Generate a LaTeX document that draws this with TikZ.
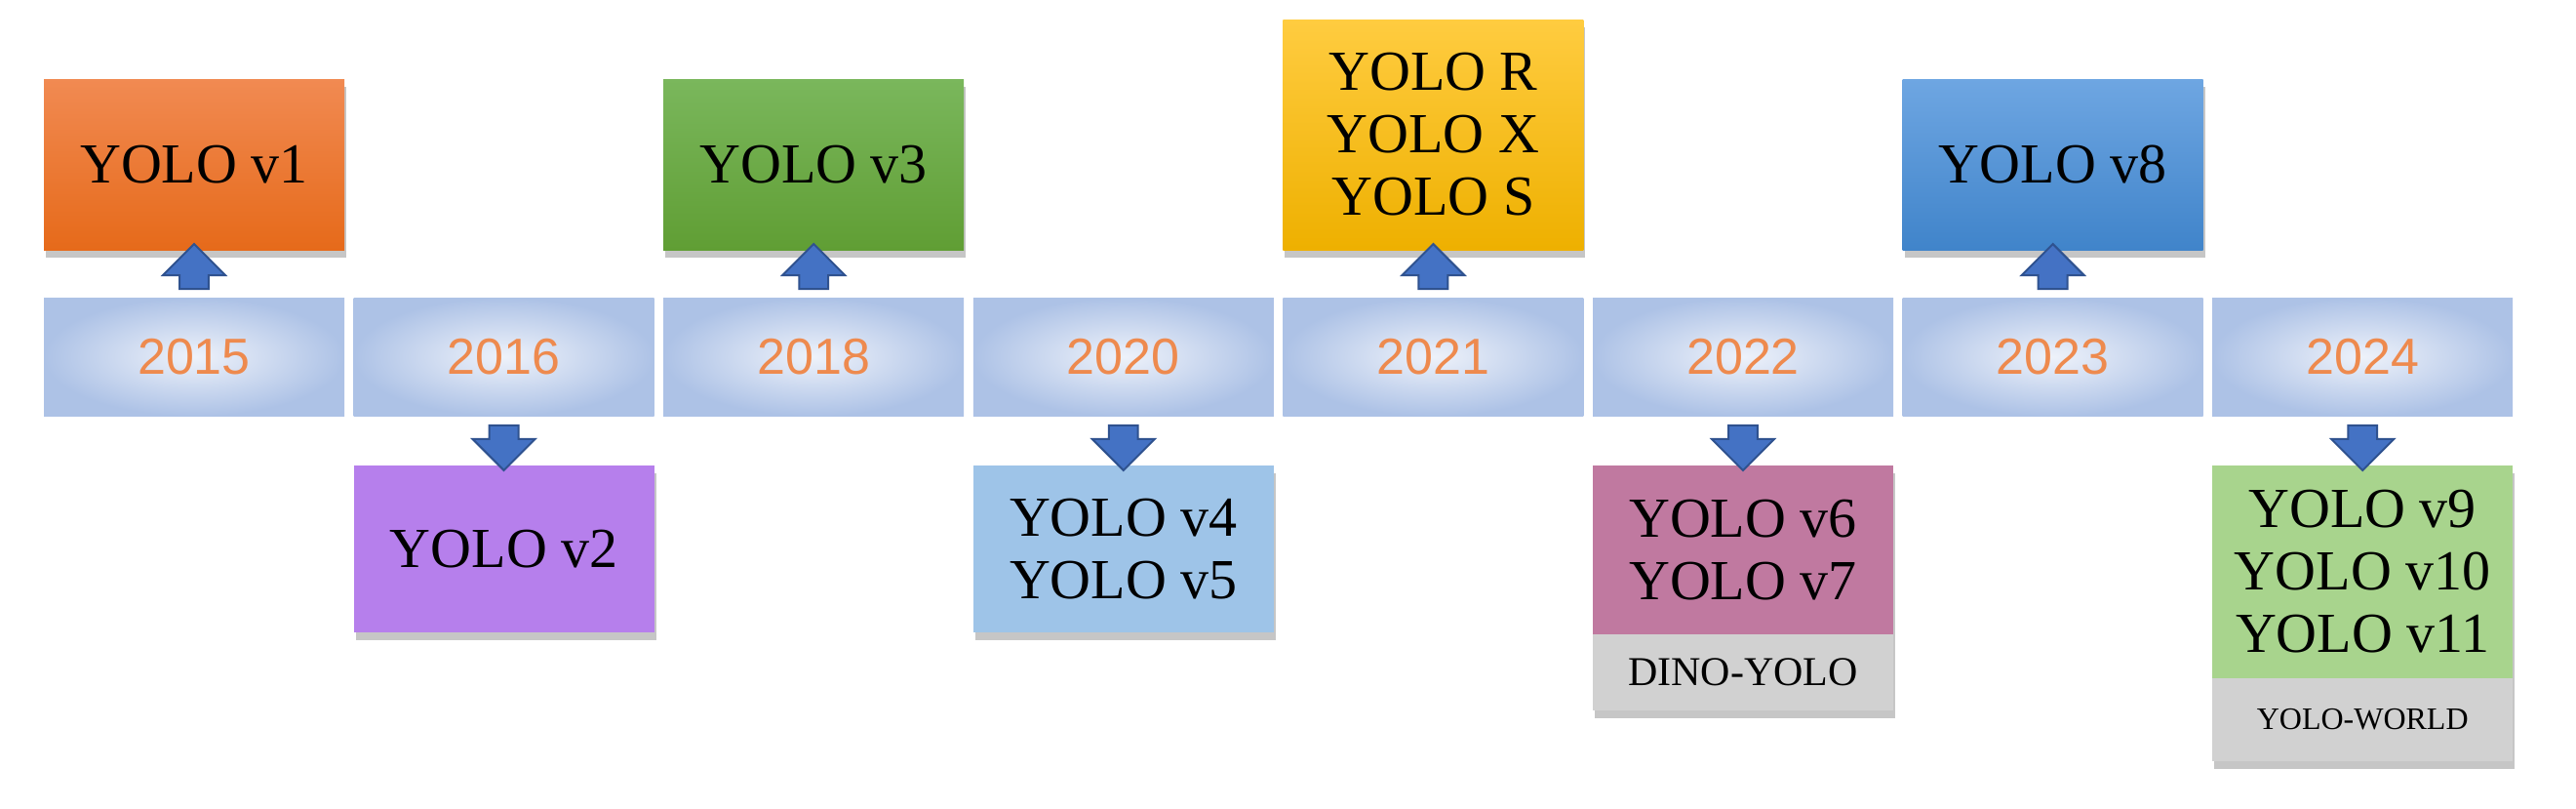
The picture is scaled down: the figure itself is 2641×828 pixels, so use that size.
\documentclass[tikz,border=0pt]{standalone}
\usepackage{fontspec}
\setmainfont{Liberation Serif}
\newfontfamily\yrfont{Liberation Sans}
\usetikzlibrary{shapes.arrows,shadows,positioning,calc}
\definecolor{yrtxt}{HTML}{EE8A4E}
\definecolor{yredge}{HTML}{ADC2E6}
\definecolor{yrin}{HTML}{EEF2FA}
\definecolor{arrfill}{HTML}{4472C4}
\definecolor{arrdraw}{HTML}{2F528F}
\begin{document}
\begin{tikzpicture}[x=1pt,y=-1pt,
  year/.style={draw=none,minimum width=308pt,minimum height=121pt,inner color=yrin,outer color=yredge,
    font=\yrfont\fontsize{52}{52}\selectfont,text=yrtxt},
  shad/.style={drop shadow={shadow xshift=2pt,shadow yshift=-8pt,opacity=0.45}},
  box/.style={minimum width=308pt,draw=none,align=center,font=\fontsize{58}{64}\selectfont,shad},
  sub/.style={minimum width=308pt,draw=none,fill=black!18,align=center,shad},
  up/.style={single arrow,draw=arrdraw,fill=arrfill,line width=2pt,shape border rotate=90,
    minimum height=46pt,minimum width=64pt,single arrow head extend=16pt,inner sep=13pt,
    single arrow head indent=0pt},
  down/.style={up,shape border rotate=270}]
\useasboundingbox (0,0) rectangle (2641,828);
% year boxes
\foreach \n/\y [count=\i from 0] in {a/2015,b/2016,c/2018,d/2020,e/2021,f/2022,g/2023,h/2024}{
  \node[year] (y\n) at ({45+154+317.6*\i},365.5) {\y};
}
% top boxes
\node[box,top color={rgb,255:red,241;green,138;blue,82},bottom color={rgb,255:red,230;green,106;blue,26},minimum height=175pt] (v1) at (ya.center |- 0,168.5) {YOLO v1};
\node[box,top color={rgb,255:red,122;green,183;blue,92},bottom color={rgb,255:red,96;green,158;blue,52},minimum height=175pt] (v3) at (yc.center |- 0,168.5) {YOLO v3};
\node[box,top color={rgb,255:red,255;green,204;blue,64},bottom color={rgb,255:red,238;green,176;blue,0},minimum height=236pt] (vr) at (ye.center |- 0,138) {YOLO R\\YOLO X\\YOLO S};
\node[box,top color={rgb,255:red,110;green,166;blue,226},bottom color={rgb,255:red,64;green,132;blue,202},minimum height=175pt] (v8) at (yg.center |- 0,168.5) {YOLO v8};
% bottom boxes
\node[box,fill={rgb,255:red,182;green,127;blue,236},minimum height=171pt] (v2) at (yb.center |- 0,562.5) {YOLO v2};
\node[box,fill={rgb,255:red,158;green,196;blue,232},minimum height=171pt] (v4) at (yd.center |- 0,562.5) {YOLO v4\\YOLO v5};
\node[box,fill={rgb,255:red,192;green,121;blue,160},minimum height=173pt] (v6) at (yf.center |- 0,563.5) {YOLO v6\\YOLO v7};
\node[sub,minimum height=78pt,font=\fontsize{42}{42}\selectfont] (dino) at (yf.center |- 0,689) {DINO-YOLO};
\node[box,fill={rgb,255:red,168;green,212;blue,141},minimum height=218pt] (v9) at (yh.center |- 0,586) {YOLO v9\\YOLO v10\\YOLO v11};
\node[sub,minimum height=85pt,font=\fontsize{32}{32}\selectfont] (world) at (yh.center |- 0,737.5) {YOLO-WORLD};
% arrows
\foreach \s/\t in {ya/v1,yc/v3,ye/vr,yg/v8}{
  \node[up] at ($(\s.north)!0.5!(\t.south)$) {};
}
\foreach \s/\t in {yb/v2,yd/v4,yf/v6,yh/v9}{
  \node[down] at ($(\s.south)!0.5!(\t.north)$) {};
}
\end{tikzpicture}
\end{document}
